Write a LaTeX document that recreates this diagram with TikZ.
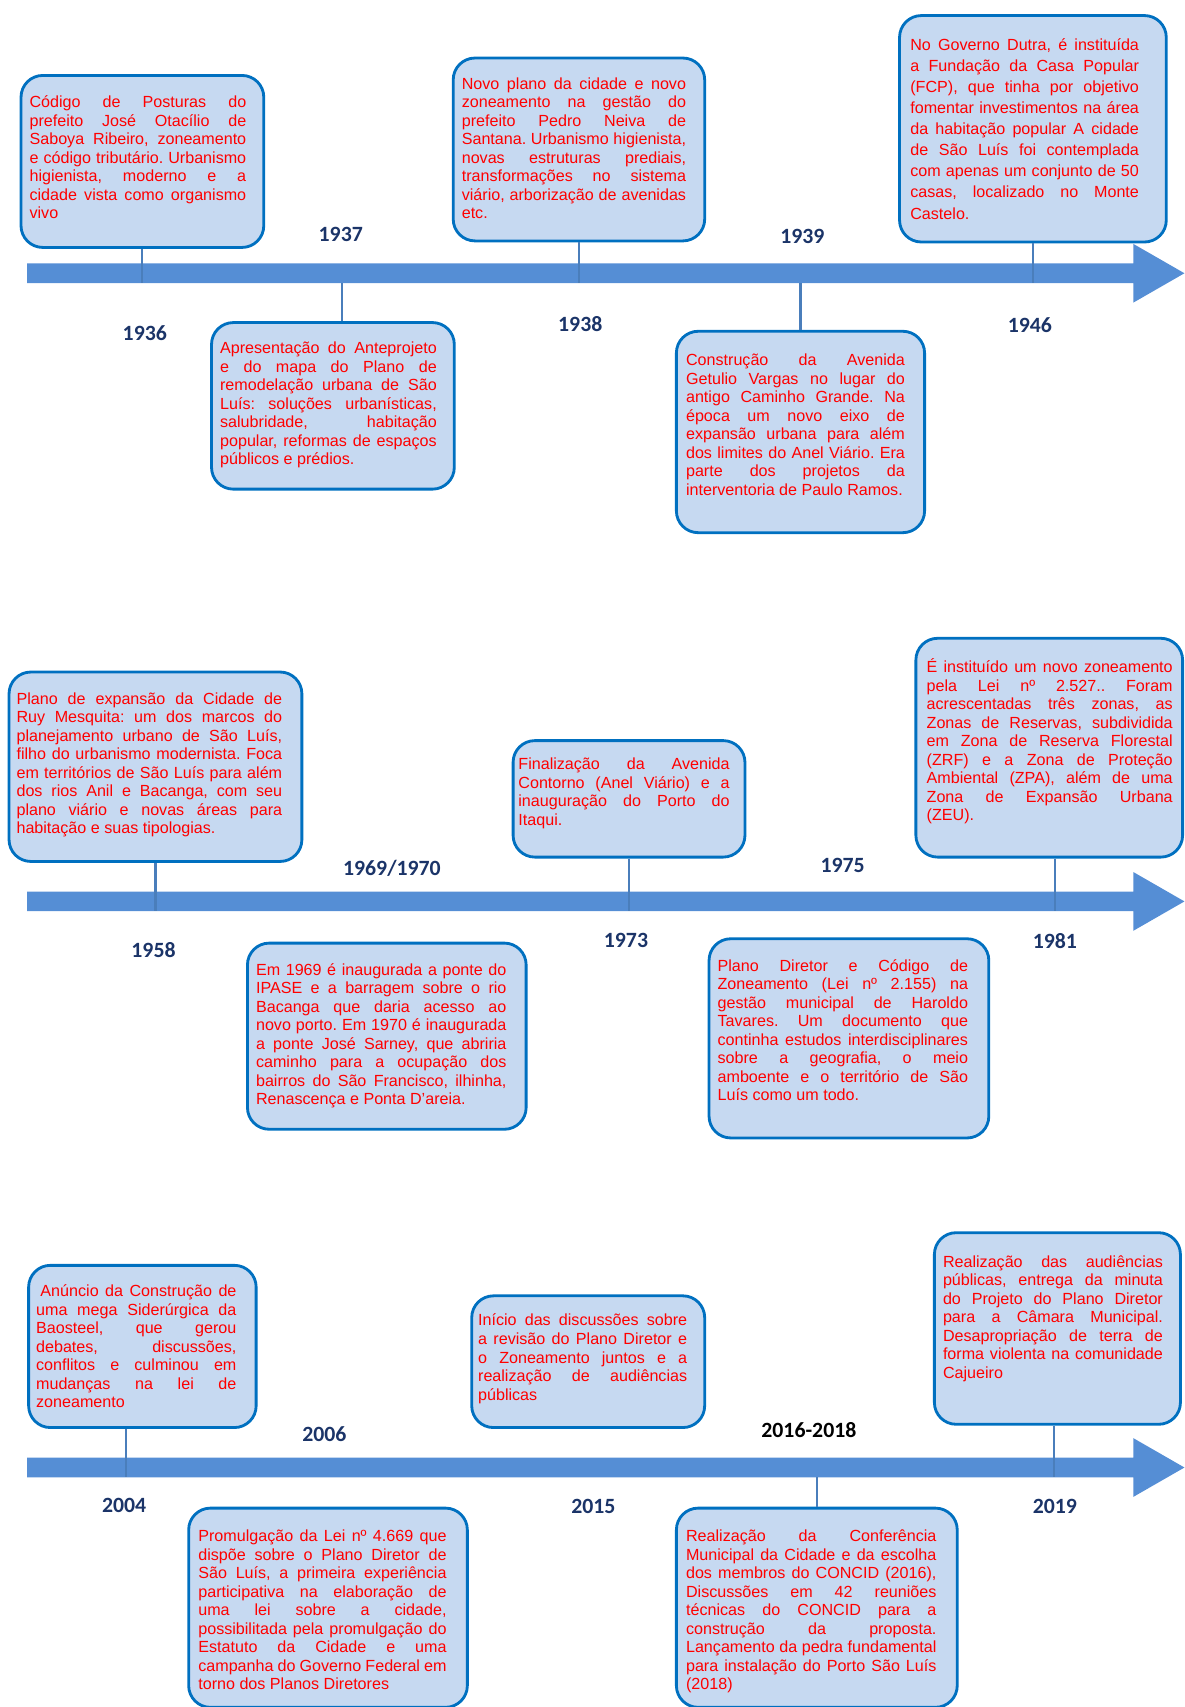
\documentclass[tikz,border=0pt]{standalone}
\usepackage{fontspec}
\setmainfont{Liberation Sans}
\newfontfamily\yearface{Carlito}
\usetikzlibrary{positioning}

\definecolor{cardfill}{HTML}{C6D9F1}
\definecolor{cardline}{HTML}{0070C0}
\definecolor{barblue}{HTML}{558ED5}
\definecolor{tickblue}{HTML}{4A7EBB}
\definecolor{yearblue}{HTML}{1B3468}

% keep the forced line ends, no hyphens, plain word spaces
\frenchspacing
\hyphenpenalty=10000
\exhyphenpenalty=10000
\hbadness=10000
\tolerance=10000
\hfuzz=8pt

\tikzset{
  card/.style={draw=cardline, line width=2.6pt, fill=cardfill, rounded corners=20pt,
    anchor=north west, inner sep=0pt},
  note/.style={text=red, font=\frenchspacing\fontsize{14.8}{17}\selectfont, align=justify,
    anchor=base west, inner sep=0pt},
  year/.style={text=yearblue, font=\yearface\bfseries\fontsize{20}{24}\selectfont},
  tick/.style={draw=tickblue, line width=2pt},
}

\begin{document}
\begin{tikzpicture}[x=1pt, y=-1pt]
\useasboundingbox (0,0) rectangle (1088,1568);

% the three time axes
\foreach \r/\y in {1/251, 2/828, 3/1348} {
  \fill[barblue] (25,\y-9) -- (1041,\y-9) -- (1041,\y-27) -- (1088,\y)
    -- (1041,\y+27) -- (1041,\y+9) -- (25,\y+9) -- cycle;
  \coordinate (axis\r) at (25,\y+9);
}

% ---- 1936 - 1946
\node[card, minimum width=223, minimum height=158] (c1936) at (18,68) {};
\node[card, minimum width=223, minimum height=153] (c1937) at (193,295) {};
\node[card, minimum width=231, minimum height=168] (c1938) at (415,52) {};
\node[card, minimum width=228, minimum height=185] (c1939) at (620,303) {};
\node[card, minimum width=245, minimum height=208] (c1946) at (825,13) {};

\node[note, text width=199] (t1936) at (27,99) {Código de Posturas do\linebreak
  prefeito José Otacílio de\linebreak
  Saboya Ribeiro, zoneamento\linebreak
  e código tributário. Urbanismo\linebreak
  higienista, moderno e a\linebreak
  cidade vista como organismo\linebreak
  vivo};
\node[note, text width=199] (t1937) at (202,325) {Apresentação do Anteprojeto\linebreak
  e do mapa do Plano de\linebreak
  remodelação urbana de São\linebreak
  Luís: soluções urbanísticas,\linebreak
  salubridade, habitação\linebreak
  popular, reformas de espaços\linebreak
  públicos e prédios.};
\node[note, text width=206] (t1938) at (424,82) {Novo plano da cidade e novo\linebreak
  zoneamento na gestão do\linebreak
  prefeito Pedro Neiva de\linebreak
  Santana. Urbanismo higienista,\linebreak
  novas estruturas prediais,\linebreak
  transformações no sistema\linebreak
  viário, arborização de avenidas\linebreak
  etc.};
\node[note, text width=201] (t1939) at (630,336) {Construção da Avenida\linebreak
  Getulio Vargas no lugar do\linebreak
  antigo Caminho Grande. Na\linebreak
  época um novo eixo de\linebreak
  expansão urbana para além\linebreak
  dos limites do Anel Viário. Era\linebreak
  parte dos projetos da\linebreak
  interventoria de Paulo Ramos.};
\node[note, text width=210, font=\frenchspacing\fontsize{14.8}{19.4}\selectfont] (t1946) at (836,46)
  {No Governo Dutra, é instituída\linebreak
  a Fundação da Casa Popular\linebreak
  (FCP), que tinha por objetivo\linebreak
  fomentar investimentos na área\linebreak
  da habitação popular A cidade\linebreak
  de São Luís foi contemplada\linebreak
  com apenas um conjunto de 50\linebreak
  casas, localizado no Monte\linebreak
  Castelo.};

\draw[tick] (c1936.south) -- (c1936.south |- axis1);
\draw[tick] ([xshift=8]c1937.north) -- ([xshift=8]c1937.north |- axis1);
\draw[tick] (c1938.south) -- (c1938.south |- axis1);
\draw[tick] (c1939.north) -- (c1939.north |- axis1);
\draw[tick] (c1946.south) -- (c1946.south |- axis1);

\node[year] (y1936) at (133,306) {1936};
\node[year] (y1937) at (313,215) {1937};
\node[year] (y1938) at (533,298) {1938};
\node[year] (y1939) at (737,217) {1939};
\node[year] (y1946) at (946,299) {1946};

% ---- 1958 - 1981
\node[card, minimum width=269, minimum height=174] (c1958) at (7,616) {};
\node[card, minimum width=256, minimum height=171] (c1969) at (226,865) {};
\node[card, minimum width=213, minimum height=107] (c1973) at (470,679) {};
\node[card, minimum width=257, minimum height=183] (c1975) at (650,861) {};
\node[card, minimum width=245, minimum height=201] (c1981) at (840,585) {};

\node[note, text width=244] (t1958) at (15,647) {Plano de expansão da Cidade de\linebreak
  Ruy Mesquita: um dos marcos do\linebreak
  planejamento urbano de São Luís,\linebreak
  filho do urbanismo modernista. Foca\linebreak
  em territórios de São Luís para além\linebreak
  dos rios Anil e Bacanga, com seu\linebreak
  plano viário e novas áreas para\linebreak
  habitação e suas tipologias.};
\node[note, text width=230] (t1969) at (235,896) {Em 1969 é inaugurada a ponte do\linebreak
  IPASE e a barragem sobre o rio\linebreak
  Bacanga que daria acesso ao\linebreak
  novo porto. Em 1970 é inaugurada\linebreak
  a ponte José Sarney, que abriria\linebreak
  caminho para a ocupação dos\linebreak
  bairros do São Francisco, ilhinha,\linebreak
  Renascença e Ponta D’areia.};
\node[note, text width=194] (t1973) at (476,707) {Finalização da Avenida\linebreak
  Contorno (Anel Viário) e a\linebreak
  inauguração do Porto do\linebreak
  Itaqui.};
\node[note, text width=230] (t1975) at (659,892) {Plano Diretor e Código de\linebreak
  Zoneamento (Lei nº 2.155) na\linebreak
  gestão municipal de Haroldo\linebreak
  Tavares. Um documento que\linebreak
  continha estudos interdisciplinares\linebreak
  sobre a geografia, o meio\linebreak
  amboente e o território de São\linebreak
  Luís como um todo.};
\node[note, text width=226] (t1981) at (851,618) {É instituído um novo zoneamento\linebreak
  pela Lei nº 2.527.. Foram\linebreak
  acrescentadas três zonas, as\linebreak
  Zonas de Reservas, subdividida\linebreak
  em Zona de Reserva Florestal\linebreak
  (ZRF) e a Zona de Proteção\linebreak
  Ambiental (ZPA), além de uma\linebreak
  Zona de Expansão Urbana\linebreak
  (ZEU).};

\draw[tick] (c1958.south) -- (c1958.south |- axis2);
\draw[tick] (c1973.south) -- (c1973.south |- axis2);
\draw[tick] ([xshift=5]c1981.south) -- ([xshift=5]c1981.south |- axis2);

\node[year] (y1958) at (141,873) {1958};
\node[year] (y1969) at (360,798) {1969/1970};
\node[year] (y1973) at (575,864) {1973};
\node[year] (y1975) at (774,795) {1975};
\node[year] (y1981) at (969,864) {1981};

% ---- 2004 - 2019
\node[card, minimum width=209, minimum height=149] (c2004) at (25,1161) {};
\node[card, minimum width=256, minimum height=183] (c2006) at (172,1384) {};
\node[card, minimum width=214, minimum height=121] (c2015) at (432,1189) {};
\node[card, minimum width=258, minimum height=183] (c2016) at (620,1384) {};
\node[card, minimum width=226, minimum height=176] (c2019) at (857,1131) {};

\node[note, text width=184] (t2004) at (33,1191) {\hspace*{4pt}Anúncio da Construção de\linebreak
  uma mega Siderúrgica da\linebreak
  Baosteel, que gerou\linebreak
  debates, discussões,\linebreak
  conflitos e culminou em\linebreak
  mudanças na lei de\linebreak
  zoneamento};
\node[note, text width=228] (t2006) at (182,1416) {Promulgação da Lei nº 4.669 que\linebreak
  dispõe sobre o Plano Diretor de\linebreak
  São Luís, a primeira experiência\linebreak
  participativa na elaboração de\linebreak
  uma lei sobre a cidade,\linebreak
  possibilitada pela promulgação do\linebreak
  Estatuto da Cidade e uma\linebreak
  campanha do Governo Federal em\linebreak
  torno dos Planos Diretores};
\node[note, text width=192] (t2015) at (439,1218) {Início das discussões sobre\linebreak
  a revisão do Plano Diretor e\linebreak
  o Zoneamento juntos e a\linebreak
  realização de audiências\linebreak
  públicas};
\node[note, text width=230] (t2016) at (630,1416) {Realização da Conferência\linebreak
  Municipal da Cidade e da escolha\linebreak
  dos membros do CONCID (2016),\linebreak
  Discussões em 42 reuniões\linebreak
  técnicas do CONCID para a\linebreak
  construção da proposta.\linebreak
  Lançamento da pedra fundamental\linebreak
  para instalação do Porto São Luís\linebreak
  (2018)};
\node[note, text width=202] (t2019) at (866,1164) {Realização das audiências\linebreak
  públicas, entrega da minuta\linebreak
  do Projeto do Plano Diretor\linebreak
  para a Câmara Municipal.\linebreak
  Desapropriação de terra de\linebreak
  forma violenta na comunidade\linebreak
  Cajueiro};

\draw[tick] ([xshift=-15]c2004.south) -- ([xshift=-15]c2004.south |- axis3);
\draw[tick] (c2016.north) -- (c2016.north |- axis3);
\draw[tick] ([xshift=-3]c2019.south) -- ([xshift=-3]c2019.south |- axis3);

\node[year] (y2004) at (114,1383) {2004};
\node[year] (y2006) at (298,1317) {2006};
\node[year] (y2015) at (545,1384) {2015};
\node[year, text=black] (y2016) at (743,1314) {2016-2018};
\node[year] (y2019) at (969,1384) {2019};
\end{tikzpicture}
\end{document}
